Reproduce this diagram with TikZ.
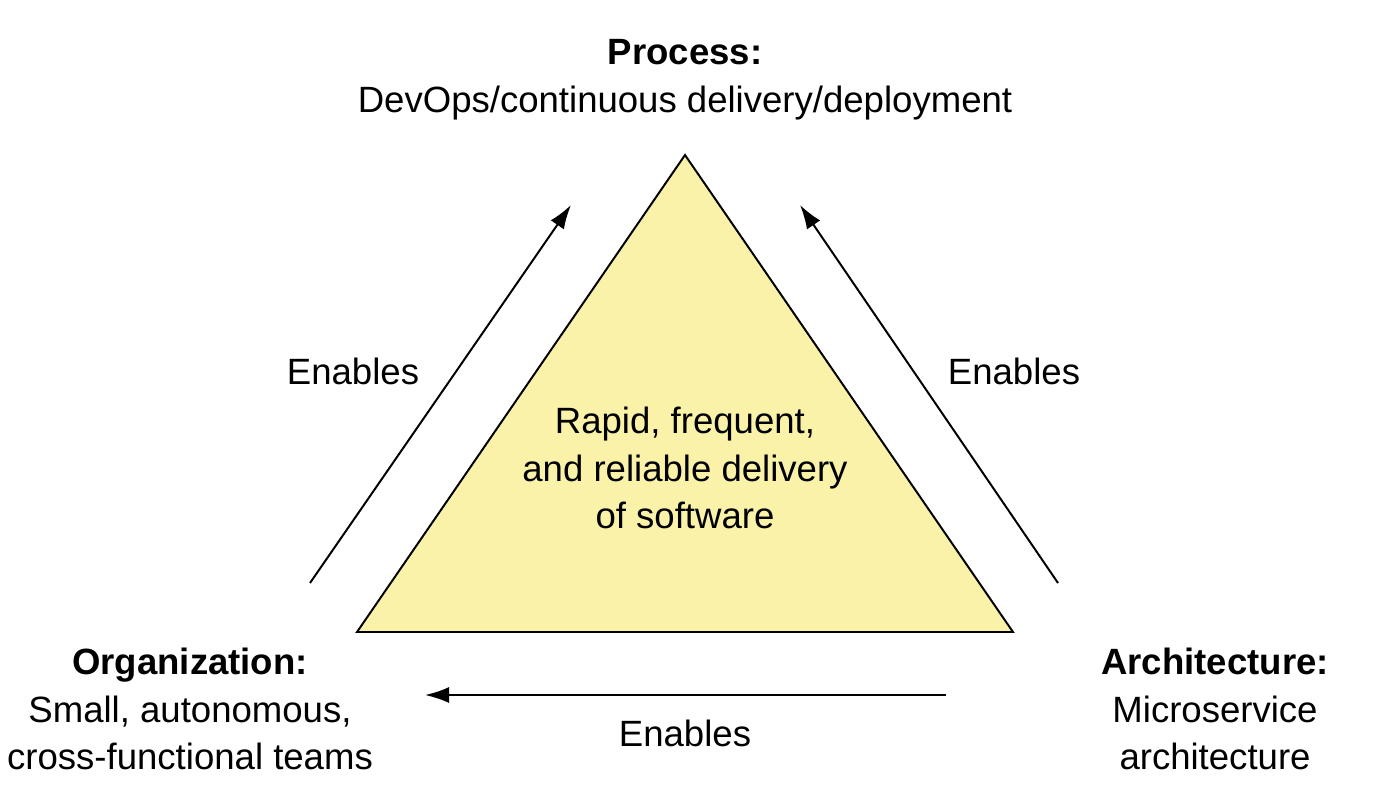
\documentclass[tikz,border=0pt]{standalone}
\usepackage{fontspec}
\setmainfont{Liberation Sans}
\usetikzlibrary{arrows.meta}
\definecolor{paleyellow}{HTML}{FAF2A8}
\tikzset{
  label/.style={font=\fontsize{26}{34}\selectfont, align=center, inner sep=0pt},
  enables/.style={draw, line width=1.4pt, -{Latex[length=0.6cm,width=0.4cm]}}
}
\begin{document}
\begin{tikzpicture}[x=0.025cm,y=-0.025cm]
    \useasboundingbox (0,0) rectangle (1392,804);
    \coordinate (apex) at (685,155);
    \coordinate (bl) at (357,632);
    \coordinate (br) at (1013,632);
    \draw[line width=1.4pt, fill=paleyellow, line join=miter] (apex)--(br)--(bl)--cycle;
    \node[label] (goal) at (685,468) {Rapid, frequent,\\and reliable delivery\\of software};
    \node[label] (process) at (685,80) {\textbf{Process:}\\DevOps/continuous delivery/deployment};
    \node[label] (org) at (190,709) {\textbf{Organization:}\\Small, autonomous,\\cross-functional teams};
    \node[label] (arch) at (1215,709) {\textbf{Architecture:}\\Microservice\\architecture};
    \coordinate (lstart) at (310,583);
    \coordinate (lend) at (571,205);
    \coordinate (rstart) at (1058,583);
    \coordinate (rend) at (800,205);
    \coordinate (bstart) at (946,695);
    \coordinate (bend) at (425,695);
    \draw[enables] (lstart) -- (lend);
    \draw[enables] (rstart) -- (rend);
    \draw[enables] (bstart) -- (bend);
    \node[label] (lenables) at (353,371) {Enables};
    \node[label] (renables) at (1014,371) {Enables};
    \node[label] (benables) at (685,733) {Enables};
\end{tikzpicture}
\end{document}
